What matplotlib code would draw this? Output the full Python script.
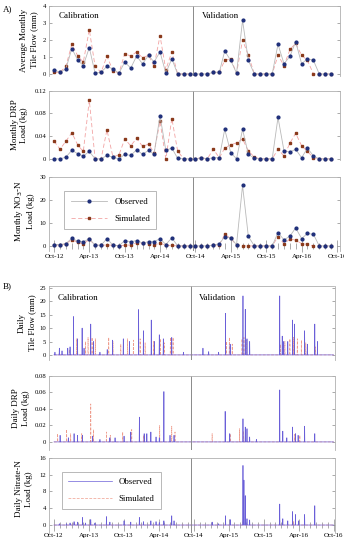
import matplotlib
matplotlib.use("Agg")
import matplotlib.pyplot as plt
import matplotlib.dates as mdates
import pandas as pd
import numpy as np

plt.rcParams['font.family'] = ['Liberation Serif', 'DejaVu Serif']

# ---------------- Monthly data (Oct-12 .. Sep-16) ----------------
months = pd.date_range("2012-10-01", "2016-09-01", freq="MS")

flow_obs = [0.25, 0.1, 0.3, 1.5, 0.8, 0.5, 1.55, 0.05, 0.1, 0.45, 0.3, 0.05,
            0.7, 0.35, 1.05, 0.6, 1.1, 0.7, 1.3, 0.05, 0.9, 0.0, 0.0, 0.0,
            0.0, 0.0, 0.0, 0.1, 0.1, 1.35, 0.8, 0.05, 3.15, 0.8, 0.0, 0.0,
            0.0, 0.0, 1.75, 0.6, 1.05, 1.9, 0.6, 0.9, 0.8, 0.0, 0.0, 0.0]
flow_sim = [0.1, 0.1, 0.45, 1.75, 1.05, 0.7, 2.6, 0.45, 0.1, 1.05, 0.2, 0.05,
            1.2, 1.05, 1.3, 0.95, 1.1, 0.45, 2.25, 0.25, 1.3, 0.0, 0.0, 0.0,
            0.0, 0.0, 0.0, 0.1, 0.1, 0.8, 0.9, 0.05, 2.0, 1.1, 0.0, 0.0,
            0.0, 0.0, 1.1, 0.5, 1.45, 1.8, 1.1, 0.8, 0.0, 0.0, 0.0, 0.0]

drp_obs = [0.0, 0.0, 0.003, 0.015, 0.009, 0.005, 0.013, 0.0, 0.0, 0.006, 0.003, 0.0,
           0.008, 0.006, 0.016, 0.008, 0.015, 0.008, 0.076, 0.015, 0.019, 0.001, 0.0, 0.0,
           0.0, 0.002, 0.0, 0.002, 0.002, 0.052, 0.011, 0.0, 0.052, 0.008, 0.001, 0.0,
           0.0, 0.0, 0.073, 0.014, 0.012, 0.017, 0.002, 0.019, 0.005, 0.0, 0.0, 0.0]
drp_sim = [0.031, 0.017, 0.031, 0.046, 0.024, 0.013, 0.103, 0.0, 0.0, 0.051, 0.0035, 0.007,
           0.035, 0.023, 0.036, 0.022, 0.026, 0.011, 0.066, 0.0, 0.071, 0.014, 0.0, 0.0,
           0.0, 0.002, 0.0, 0.017, 0.002, 0.019, 0.025, 0.028, 0.035, 0.014, 0.003, 0.0,
           0.0, 0.0, 0.017, 0.005, 0.028, 0.045, 0.023, 0.013, 0.002, 0.0, 0.0, 0.0]

no3_obs = [0.6, 0.6, 1.0, 3.3, 2.0, 1.8, 3.1, 0.3, 0.3, 3.2, 0.3, 0.1,
           2.3, 1.8, 2.3, 1.3, 1.8, 1.8, 3.2, 0.6, 3.5, 0.0, 0.0, 0.0,
           0.0, 0.0, 0.0, 0.3, 1.0, 3.9, 3.5, 0.5, 26.2, 4.1, 0.0, 0.0,
           0.0, 0.0, 5.8, 2.6, 4.3, 7.8, 3.2, 5.4, 5.0, 0.0, 0.0, 0.0]
no3_sim = [0.4, 0.4, 0.9, 2.7, 1.5, 0.8, 2.8, 0.3, 0.3, 0.4, 0.3, 0.1,
           0.3, 0.4, 1.4, 1.1, 0.9, 0.3, 1.3, 0.2, 0.2, 0.0, 0.0, 0.0,
           0.0, 0.0, 0.0, 0.3, 0.5, 5.0, 3.3, 0.3, 0.0, 0.0, 0.0, 0.0,
           0.0, 0.0, 4.0, 1.0, 3.0, 2.5, 1.0, 0.7, 0.0, 0.0, 0.0, 0.0]

# ---------------- Daily data (non-zero days) ----------------
dflow_obs_dates = ["2012-10-06", "2012-10-29", "2012-11-12", "2012-12-12", "2012-12-24",
                   "2013-01-11", "2013-02-01", "2013-02-25", "2013-03-07", "2013-04-11",
                   "2013-04-25", "2013-05-29", "2013-07-06", "2013-08-03", "2013-09-28",
                   "2013-10-30", "2013-12-17", "2014-01-11", "2014-02-21", "2014-03-10",
                   "2014-04-04", "2014-04-25", "2014-06-08", "2014-08-08",
                   "2014-11-18", "2014-12-18", "2015-02-08", "2015-03-16", "2015-04-09",
                   "2015-06-15", "2015-06-27", "2015-07-06", "2015-07-20", "2015-12-24",
                   "2016-01-06", "2016-01-14", "2016-02-04", "2016-02-29", "2016-03-10",
                   "2016-05-02", "2016-05-16", "2016-06-24", "2016-07-08"]
dflow_obs_vals = [1.0, 2.5, 1.5, 2.5, 3.0,
                  14.3, 6.0, 10.0, 2.5, 11.5,
                  5.0, 1.0, 2.0, 5.5, 6.0,
                  5.0, 16.9, 9.0, 13.0, 5.0,
                  7.5, 6.0, 6.5, 1.0,
                  2.5, 1.2, 1.0, 15.5, 4.0,
                  22.0, 17.0, 6.0, 5.0, 22.0,
                  7.0, 5.0, 5.0, 13.0, 11.5,
                  9.0, 4.0, 11.5, 5.0]
dflow_sim_dates = ["2012-10-29", "2012-12-20", "2013-01-28", "2013-03-15", "2013-03-28",
                   "2013-04-18", "2013-05-05", "2013-07-14", "2013-08-05", "2013-09-15",
                   "2013-10-20", "2013-11-20", "2013-12-25", "2014-01-20", "2014-03-05",
                   "2014-04-10", "2014-04-30", "2014-06-01", "2014-06-15",
                   "2015-03-20", "2015-04-05", "2015-04-20", "2015-06-10", "2015-06-20",
                   "2015-07-02", "2015-12-28", "2016-01-20", "2016-02-15", "2016-03-05",
                   "2016-03-25", "2016-04-15", "2016-05-08", "2016-06-28"]
dflow_sim_vals = [1.5, 2.0, 6.0, 5.0, 6.5,
                  6.5, 6.0, 6.5, 5.0, 4.0,
                  6.0, 5.5, 6.0, 4.5, 5.0,
                  6.0, 4.5, 6.5, 6.5,
                  5.0, 6.5, 4.0, 6.0, 6.5,
                  5.5, 4.0, 5.0, 6.0, 6.5,
                  6.0, 5.5, 4.5, 3.0]

ddrp_obs_dates = ["2012-11-02", "2012-12-15", "2013-01-14", "2013-02-01", "2013-02-27",
                  "2013-04-21", "2013-05-29", "2013-07-20", "2013-08-16", "2013-10-02",
                  "2013-11-06", "2013-12-21", "2014-01-15", "2014-01-29", "2014-02-19",
                  "2014-03-18", "2014-04-04", "2014-04-28", "2014-05-30", "2014-06-20",
                  "2015-03-14", "2015-04-07", "2015-06-15", "2015-06-27", "2015-07-06",
                  "2015-07-20", "2015-08-24", "2015-12-24", "2016-01-09", "2016-01-30",
                  "2016-02-29", "2016-03-15", "2016-03-29", "2016-05-02", "2016-06-24"]
ddrp_obs_vals = [0.008, 0.005, 0.010, 0.008, 0.008,
                 0.007, 0.003, 0.005, 0.005, 0.007,
                 0.012, 0.030, 0.010, 0.010, 0.012,
                 0.006, 0.005, 0.061, 0.008, 0.008,
                 0.037, 0.010, 0.028, 0.018, 0.016,
                 0.006, 0.003, 0.063, 0.013, 0.005,
                 0.018, 0.010, 0.008, 0.019, 0.010]
ddrp_sim_dates = ["2012-10-20", "2012-12-06", "2012-12-27", "2013-02-23", "2013-04-11",
                  "2013-04-25", "2013-07-02", "2013-07-22", "2013-09-25", "2013-11-11",
                  "2014-01-11", "2014-04-06", "2014-06-08", "2014-06-25",
                  "2015-01-05", "2015-04-09", "2015-05-28", "2015-06-18", "2016-03-10",
                  "2016-04-07"]
ddrp_sim_vals = [0.010, 0.015, 0.010, 0.010, 0.046,
                 0.015, 0.012, 0.008, 0.012, 0.015,
                 0.008, 0.020, 0.019, 0.012,
                 0.010, 0.010, 0.016, 0.013, 0.009,
                 0.008]

dno3_obs_dates = ["2012-10-29", "2012-12-06", "2012-12-24", "2013-01-14", "2013-02-01",
                  "2013-02-27", "2013-03-15", "2013-04-11", "2013-05-03", "2013-07-02",
                  "2013-07-20", "2013-10-02", "2013-11-06", "2013-12-21", "2014-01-11",
                  "2014-02-19", "2014-03-18", "2014-04-04", "2014-04-28", "2014-06-08",
                  "2014-06-20",
                  "2015-01-05", "2015-02-08", "2015-03-16", "2015-04-09", "2015-06-15",
                  "2015-06-20", "2015-06-27", "2015-07-06", "2015-07-20", "2015-12-24",
                  "2016-01-09", "2016-02-04", "2016-02-29", "2016-03-15", "2016-04-01",
                  "2016-05-02", "2016-06-24"]
dno3_obs_vals = [0.3, 0.3, 0.5, 0.8, 0.7,
                 1.8, 0.5, 1.3, 0.5, 2.0,
                 0.7, 1.0, 0.7, 1.8, 0.8,
                 1.0, 0.8, 0.6, 1.0, 2.2,
                 1.0,
                 0.7, 0.3, 2.2, 1.3, 14.2,
                 10.7, 7.0, 1.5, 1.2, 5.0,
                 1.5, 1.0, 3.2, 2.5, 1.0,
                 2.5, 4.6]
dno3_sim_dates = ["2013-01-14", "2013-04-11", "2013-07-02", "2013-12-21", "2014-04-04",
                  "2015-03-16", "2015-06-15", "2015-12-24", "2016-03-05"]
dno3_sim_vals = [0.5, 0.7, 0.6, 0.6, 0.5,
                 1.5, 1.0, 1.0, 0.8]

split_date = "2014-09-18"

# ---------------- helpers ----------------
days = pd.date_range("2012-10-01", "2016-09-30", freq="D")


def daily_series(dates, vals):
    s = pd.Series(0.0, index=days)
    s.loc[pd.to_datetime(dates)] = vals
    return s


OBS_LINE = "#b9b9b9"
OBS_MK = "#1f2f7a"
SIM_LINE = "#f2a3a3"
SIM_MK = "#8a3a1c"
D_OBS = "#6a5fd8"
D_SIM = "#ee9c8c"
FRAME = "#b0b0b0"

W, H = 344, 550
fig = plt.figure(figsize=(W / 100, H / 100), dpi=100)


def make_ax(left, top, right, bottom):
    return fig.add_axes([left / W, 1 - bottom / H, (right - left) / W, (bottom - top) / H])


def style(ax, yticks, ylim, xlim, show_x, ticklabels):
    ax.set_ylim(*ylim)
    ax.set_xlim(pd.Timestamp(xlim[0]), pd.Timestamp(xlim[1]))
    ax.set_yticks(yticks)
    ax.set_yticklabels(ticklabels, fontsize=4.8)
    for sp in ["left", "top", "right"]:
        ax.spines[sp].set_color(FRAME)
        ax.spines[sp].set_linewidth(0.6)
    ax.spines["bottom"].set_position(("data", 0))
    ax.spines["bottom"].set_visible(False)
    ax.tick_params(axis="y", which="both", direction="in", length=2, width=0.5,
                   color="#888888", pad=2, right=True)
    ax.xaxis.set_major_locator(mdates.MonthLocator(bymonth=[4, 10]))
    ax.xaxis.set_minor_locator(mdates.MonthLocator())
    ax.xaxis.set_major_formatter(mdates.DateFormatter("%b-%y"))
    if show_x:
        ax.tick_params(axis="x", which="major", direction="inout", length=9, width=0.5,
                       color="#888888", labelsize=5.0, pad=1)
        ax.tick_params(axis="x", which="minor", direction="inout", length=5, width=0.5,
                       color="#888888")
    else:
        ax.tick_params(axis="x", which="both", length=0, labelbottom=False)
    ax.axvline(pd.Timestamp(split_date), color="#8a8a8a", lw=0.7)


xlimA = ("2012-09-05", "2016-10-16")
xlimB = ("2012-09-05", "2016-10-05")


def monthly(ax, obs, sim):
    lo, = ax.plot(months, obs, color=OBS_LINE, lw=0.6, marker="o", ms=2.0,
                  mfc=OBS_MK, mec=OBS_MK, clip_on=False, zorder=3)
    ls, = ax.plot(months, sim, color=SIM_LINE, lw=0.6, ls=(0, (5, 3)), marker="s",
                  ms=2.0, mfc=SIM_MK, mec=SIM_MK, clip_on=False, zorder=2)
    return lo, ls


# Panel A
a1 = make_ax(49, 6, 340, 75.7)
monthly(a1, flow_obs, flow_sim)
style(a1, [0, 1, 2, 3, 4], (-0.1, 4), xlimA, False, ["0", "1", "2", "3", "4"])
a1.text(59 / W, 1 - 16 / H, "Calibration", transform=fig.transFigure, fontsize=6.5, va="center")
a1.text(202 / W, 1 - 16 / H, "Validation", transform=fig.transFigure, fontsize=6.5, va="center")

a2 = make_ax(49, 90.7, 340, 160)
monthly(a2, drp_obs, drp_sim)
style(a2, [0, 0.04, 0.08, 0.12], (-0.002, 0.12), xlimA, False, ["0", "0.04", "0.08", "0.12"])

a3 = make_ax(49, 176.7, 340, 251)
lo, ls = monthly(a3, no3_obs, no3_sim)
style(a3, [0, 10, 20, 30], (-2.2, 30), xlimA, True, ["0", "10", "20", "30"])
leg = a3.legend([lo, ls], ["Observed", "Simulated"], loc="upper left",
                bbox_to_anchor=(0.038, 0.86), fontsize=6.3, frameon=True,
                fancybox=False, edgecolor="#999999", handlelength=4.2,
                borderpad=0.7, labelspacing=1.0, handletextpad=0.8)
leg.get_frame().set_linewidth(0.6)

# Panel B
b1 = make_ax(49, 286, 334.5, 360)
b1.plot(days, daily_series(dflow_sim_dates, dflow_sim_vals), color=D_SIM, lw=0.5, ls=(0, (4, 2)))
b1.plot(days, daily_series(dflow_obs_dates, dflow_obs_vals), color=D_OBS, lw=0.5)
style(b1, [0, 5, 10, 15, 20, 25], (-1.9, 25.7), xlimB, False,
      ["0", "5", "10", "15", "20", "25"])
b1.text(58 / W, 1 - 298 / H, "Calibration", transform=fig.transFigure, fontsize=6.5, va="center")
b1.text(199 / W, 1 - 298 / H, "Validation", transform=fig.transFigure, fontsize=6.5, va="center")

b2 = make_ax(49, 375.5, 334.5, 450)
b2.plot(days, daily_series(ddrp_sim_dates, ddrp_sim_vals), color=D_SIM, lw=0.5, ls=(0, (4, 2)))
b2.plot(days, daily_series(ddrp_obs_dates, ddrp_obs_vals), color=D_OBS, lw=0.5)
style(b2, [0, 0.02, 0.04, 0.06, 0.08], (-0.0098, 0.0805), xlimB, False,
      ["0", "0.02", "0.04", "0.06", "0.08"])

b3 = make_ax(49, 457.5, 334.5, 533)
hs, = b3.plot(days, daily_series(dno3_sim_dates, dno3_sim_vals), color=D_SIM, lw=0.5, ls=(0, (4, 2)))
ho, = b3.plot(days, daily_series(dno3_obs_dates, dno3_obs_vals), color=D_OBS, lw=0.5)
style(b3, [0, 4, 8, 12, 16], (-1.9, 16.1), xlimB, True, ["0", "4", "8", "12", "16"])
leg2 = b3.legend([ho, hs], ["Observed", "Simulated"], loc="upper left",
                 bbox_to_anchor=(0.03, 0.87), fontsize=6.3, frameon=True,
                 fancybox=False, edgecolor="#999999", handlelength=5.0,
                 borderpad=0.7, labelspacing=1.0, handletextpad=0.8)
leg2.get_frame().set_linewidth(0.6)

# y labels
ylabs = [("Average Monthly\nTile Flow (mm)", 29, 40),
         ("Monthly DRP\nLoad (kg)", 19.5, 125),
         ("Monthly NO$_3$-N\nLoad (kg)", 24, 211),
         ("Daily\nTile Flow (mm)", 27, 323),
         ("Daily DRP\nLoad (kg)", 21, 408),
         ("Daily Nitrate-N\nLoad (kg)", 24, 489)]
for txt, x, y in ylabs:
    fig.text(x / W, 1 - y / H, txt, rotation=90, ha="center", va="center",
             fontsize=6.5, linespacing=1.3)

fig.text(3 / W, 1 - 9 / H, "A)", fontsize=6.5, va="center")
fig.text(3 / W, 1 - 286 / H, "B)", fontsize=6.5, va="center")

fig.savefig("out.png", dpi=100)
